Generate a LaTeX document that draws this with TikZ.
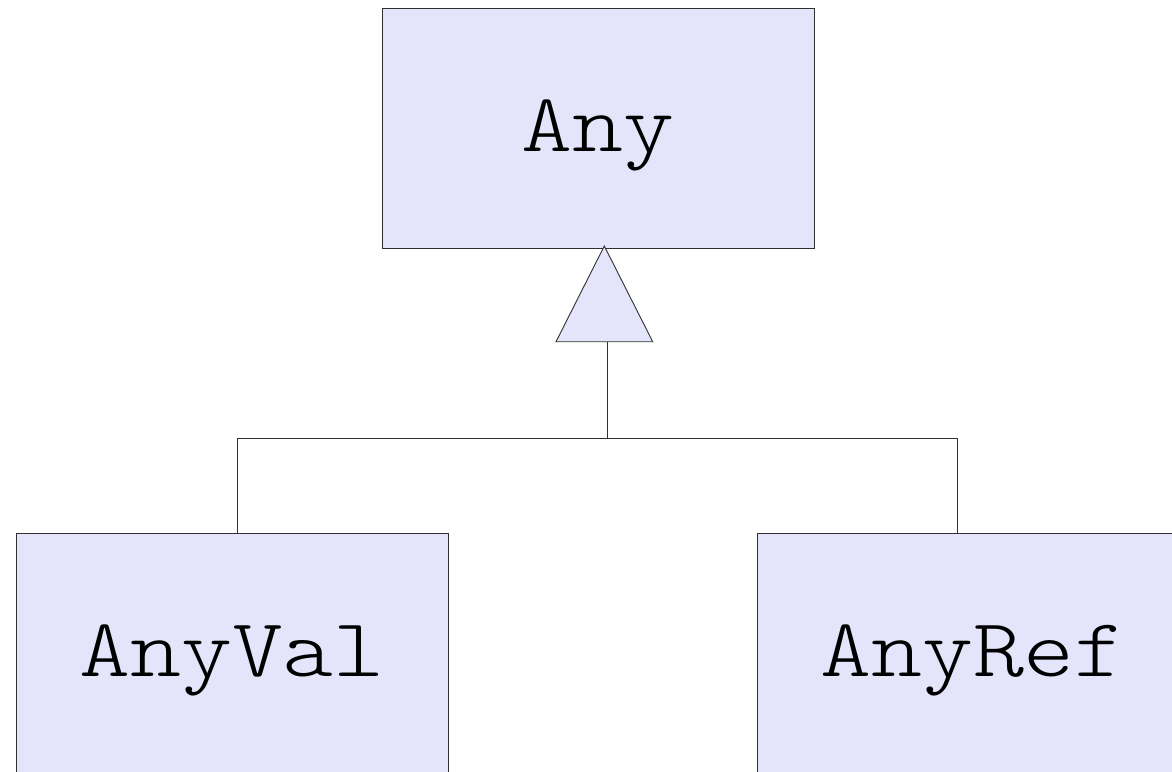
\documentclass[tikz,border=0pt]{standalone}
\usepackage{fontspec}
\newfontfamily\classfont[Extension=.otf, FakeStretch=1.17]{lmmonolt10-regular}
\definecolor{boxfill}{HTML}{E4E4FA}
\definecolor{edge}{HTML}{303030}
\begin{document}
\begin{tikzpicture}[x=1pt,y=-1pt,
  classbox/.style={draw=edge, line width=0.9pt, fill=boxfill, rectangle,
    minimum width=432pt, minimum height=240pt, inner sep=0pt,
    font=\classfont\fontsize{83}{90}\selectfont,
    text height=58pt, text depth=12pt},
  conn/.style={draw=edge, line width=0.9pt}]
\useasboundingbox (0,0) rectangle (1172,771);
\clip (0,0) rectangle (1172,771);
\fill[white] (0,0) rectangle (1172,771);
\node[classbox] (any) at (598.3,128.5) {Any};
\node[classbox] (anyval) at (232,653.5) {AnyVal};
\node[classbox] (anyref) at (973,653.5) {AnyRef};
\coordinate (apex) at (604.3,246);
\coordinate (bl) at (556,341.7);
\coordinate (br) at (652.7,341.7);
\coordinate (tribase) at (607,341.7);
\coordinate (junction) at (607,438);
\coordinate (jl) at (237.7,438);
\coordinate (jr) at (957,438);
\draw[conn] (tribase) -- (junction);
\draw[conn] (jl) -- (jr);
\draw[conn] (jl) -- (anyval.north -| jl);
\draw[conn] (jr) -- (anyref.north -| jr);
\draw[conn, fill=boxfill, line join=miter] (apex) -- (br) -- (bl) -- cycle;
\end{tikzpicture}
\end{document}
